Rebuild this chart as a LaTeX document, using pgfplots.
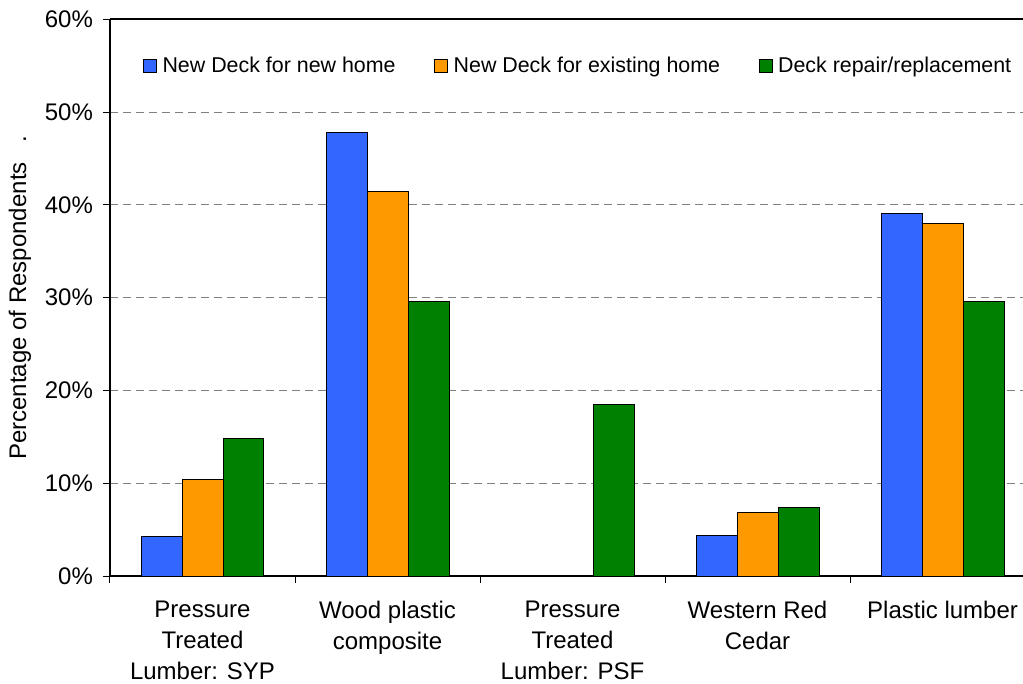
\documentclass[border=0pt]{standalone}
\usepackage{pgfplots}
\pgfplotsset{compat=1.18}
\usepackage{fontspec}
\setmainfont{Liberation Sans}

\definecolor{deckblue}{RGB}{51,102,255}
\definecolor{deckorange}{RGB}{255,153,0}
\definecolor{deckgreen}{RGB}{0,128,0}

\begin{document}
\begin{tikzpicture}
\begin{axis}[
  name=ax,
  scale only axis,
  width=456.5pt, height=278.5pt,
  xmin=-0.5, xmax=4.435,
  ymin=0, ymax=60,
  axis x line*=box, axis y line*=left,
  axis line style={line width=0.75pt},
  /pgf/number format/assume math mode=true,
  xtick={0,1,2,3,4},
  xticklabels={{Pressure\\Treated\\Lumber: SYP},{Wood plastic\\composite},{Pressure\\Treated\\Lumber: PSF},{Western Red\\Cedar},{Plastic lumber}},
  minor xtick={-0.5,0.5,1.5,2.5,3.5},
  major x tick style={draw=none},
  minor x tick style={line width=0.5pt, black},
  minor tick length=3.5pt,
  xticklabel style={align=center, font=\fontsize{12}{15.5}\selectfont, yshift=-5.5pt},
  ytick={0,10,...,60},
  yticklabel={\pgfmathprintnumber{\tick}\%},
  yticklabel style={font=\fontsize{12}{14}\selectfont, xshift=-1.5pt},
  y tick style={line width=0.5pt, black},
  major tick length=3.5pt,
  tick align=outside,
  tick pos=left,
  ymajorgrids,
  major grid style={gray, dash pattern=on 4pt off 2.5pt, line width=0.5pt},
  ylabel={Percentage of Respondents\ \ \ .},
  ylabel style={at={(axis description cs:-0.0986,0.50)}, anchor=center, font=\fontsize{12}{14}\selectfont},
  legend columns=3,
  legend style={at={(axis description cs:0.513,0.916)}, anchor=center, draw=none, fill=none,
    font=\fontsize{10.7}{12}\selectfont,
    nodes={inner sep=1.25pt},
    /tikz/every odd column/.append style={column sep=1.5pt},
    /tikz/every even column/.append style={column sep=18pt}},
  ybar, bar width=0.2216,
  every axis plot/.append style={draw=black, line width=0.5pt},
  every axis plot post/.append style={
    legend image code/.code={\draw[#1, draw=black, line width=0.5pt] (0pt,-3.25pt) rectangle (6.5pt,3.25pt);}},
]
\addplot[fill=deckblue, bar shift=-0.2216] coordinates {(0,4.3) (1,47.8) (2,0) (3,4.35) (4,39.1)};
\addplot[fill=deckorange, bar shift=0] coordinates {(0,10.4) (1,41.4) (2,0) (3,6.87) (4,38.0)};
\addplot[fill=deckgreen, bar shift=0.2216] coordinates {(0,14.8) (1,29.6) (2,18.5) (3,7.4) (4,29.6)};
\legend{New Deck for new home, New Deck for existing home, Deck repair/replacement}
\end{axis}
\pgfresetboundingbox
\path[use as bounding box] ([xshift=-55pt, yshift=-53.5pt]ax.south west) rectangle ([yshift=9.6pt]ax.north east);
\end{tikzpicture}
\end{document}
